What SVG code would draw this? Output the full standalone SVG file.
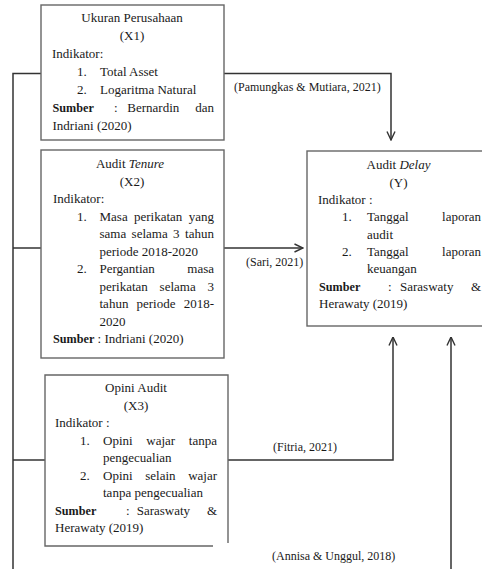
<svg xmlns="http://www.w3.org/2000/svg" width="482" height="569" viewBox="0 0 482 569">
<style>
text{font-family:"Liberation Serif","Times New Roman",serif;font-size:13px;fill:#1a1a1a}
.c{text-anchor:middle}
.e{text-anchor:end}
.b{font-weight:bold;font-size:12.2px}
.lbl{font-size:12px}
.box{fill:#fff;stroke:#666;stroke-width:1.4}
.ln{fill:none;stroke:#333;stroke-width:1.5}
</style>
<defs>
<marker id="arr" viewBox="0 0 10 10" refX="9.5" refY="5" markerWidth="10" markerHeight="10" markerUnits="userSpaceOnUse" orient="auto">
<path d="M1,1 L9.5,5 L1,9" fill="none" stroke="#333" stroke-width="1.4"/>
</marker>
</defs>
<g id="connectors">
<path class="ln" d="M13,569 V73.5 H41"/>
<path class="ln" d="M13,248 H41"/>
<path class="ln" d="M13,460 H45"/>
<path class="ln" d="M224,73.5 H391 V140" marker-end="url(#arr)"/>
<path class="ln" d="M224,248 H303" marker-end="url(#arr)"/>
<path class="ln" d="M228,460 H393 V337" marker-end="url(#arr)"/>
<path class="ln" d="M451,569 V337" marker-end="url(#arr)"/>
<text class="lbl" x="234" y="91">(Pamungkas &amp; Mutiara, 2021)</text>
<text class="lbl" x="246" y="266">(Sari, 2021)</text>
<text class="lbl" x="273" y="451">(Fitria, 2021)</text>
<text class="lbl" x="272" y="560">(Annisa &amp; Unggul, 2018)</text>
</g>
<g id="x1">
<rect class="box" x="41" y="5" width="183" height="135"/>
<text class="c" x="132" y="22">Ukuran Perusahaan</text>
<text class="c" x="132" y="40">(X1)</text>
<text x="52" y="58">Indikator:</text>
<text x="77" y="76">1.</text><text x="100" y="76">Total Asset</text>
<text x="77" y="94">2.</text><text x="100" y="94">Logaritma Natural</text>
<text class="b" x="52.5" y="112">Sumber</text>
<text x="114" y="112">:</text><text x="127.3" y="112">Bernardin</text><text class="e" x="214" y="112">dan</text>
<text x="52.5" y="130">Indriani (2020)</text>
</g>
<g id="x2">
<rect class="box" x="41" y="150" width="183" height="208"/>
<text class="c" x="130" y="168">Audit <tspan font-style="italic">Tenure</tspan></text>
<text class="c" x="132" y="185.5">(X2)</text>
<text x="53" y="203">Indikator:</text>
<text x="77" y="220.5">1.</text><text x="99.5" y="220.5">Masa</text><text x="134" y="220.5">perikatan</text><text class="e" x="214" y="220.5">yang</text>
<text x="99.5" y="238">sama</text><text x="131.6" y="238">selama</text><text x="173.1" y="238">3</text><text class="e" x="214" y="238">tahun</text>
<text x="99.5" y="255.5">periode 2018-2020</text>
<text x="77" y="273">2.</text><text x="99.5" y="273">Pergantian</text><text class="e" x="214" y="273">masa</text>
<text x="99.5" y="290.5">perikatan</text><text x="159.6" y="290.5">selama</text><text class="e" x="214" y="290.5">3</text>
<text x="99.5" y="308">tahun</text><text x="136.5" y="308">periode</text><text class="e" x="214" y="308">2018-</text>
<text x="99.5" y="325.5">2020</text>
<text x="53" y="343"><tspan class="b">Sumber</tspan> : Indriani (2020)</text>
</g>
<g id="x3">
<path class="box" d="M213,546 H45 V375 H228 V543"/>
<text class="c" x="136" y="392">Opini Audit</text>
<text class="c" x="136" y="409.5">(X3)</text>
<text x="55" y="427">Indikator :</text>
<text x="80" y="444.5">1.</text><text x="103" y="444.5">Opini</text><text x="146.3" y="444.5">wajar</text><text class="e" x="217" y="444.5">tanpa</text>
<text x="103" y="462">pengecualian</text>
<text x="80" y="479.5">2.</text><text x="103" y="479.5">Opini</text><text x="145.2" y="479.5">selain</text><text class="e" x="217" y="479.5">wajar</text>
<text x="103" y="497">tanpa pengecualian</text>
<text class="b" x="55" y="514.5">Sumber</text>
<text x="126" y="514.5">:</text><text x="136.7" y="514.5">Saraswaty</text><text class="e" x="217" y="514.5">&amp;</text>
<text x="55" y="532">Herawaty (2019)</text>
</g>
<g id="y">
<rect class="box" x="307" y="151" width="185" height="175"/>
<text class="c" x="398.5" y="169">Audit <tspan font-style="italic">Delay</tspan></text>
<text class="c" x="398.5" y="187">(Y)</text>
<text x="318" y="204">Indikator :</text>
<text x="342" y="221">1.</text><text x="367" y="221">Tanggal</text><text class="e" x="481" y="221">laporan</text>
<text x="367" y="238.5">audit</text>
<text x="342" y="256">2.</text><text x="367" y="256">Tanggal</text><text class="e" x="481" y="256">laporan</text>
<text x="367" y="273">keuangan</text>
<text class="b" x="319" y="291">Sumber</text>
<text x="388" y="291">:</text><text x="400" y="291">Saraswaty</text><text class="e" x="481" y="291">&amp;</text>
<text x="319" y="308">Herawaty (2019)</text>
</g>
</svg>
